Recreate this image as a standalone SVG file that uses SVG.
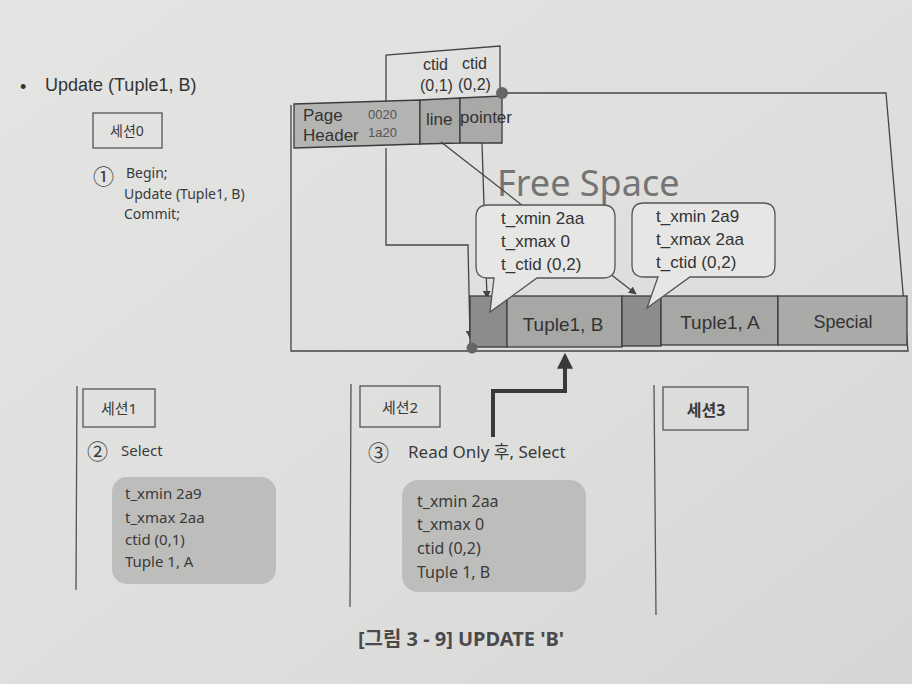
<svg xmlns="http://www.w3.org/2000/svg" width="912" height="684" viewBox="0 0 912 684">
<defs>
<linearGradient id="bg" x1="0" y1="0" x2="1" y2="1">
<stop offset="0" stop-color="#e4e4e3"/>
<stop offset="0.6" stop-color="#dededd"/>
<stop offset="1" stop-color="#d6d6d5"/>
</linearGradient>
<marker id="ah" viewBox="0 0 10 10" refX="9" refY="5" markerWidth="6" markerHeight="6" orient="auto-start-reverse">
<path d="M0,0 L10,5 L0,10 z" fill="#444"/>
</marker>
<marker id="ahb" viewBox="0 0 10 10" refX="8" refY="5" markerWidth="4" markerHeight="4" orient="auto">
<path d="M0,0 L10,5 L0,10 z" fill="#3a3a3a"/>
</marker>
</defs>
<style>
.t{font-family:"Liberation Sans","Noto Sans","Noto Sans CJK KR",sans-serif;fill:#333}
.k{font-family:"Noto Sans","Noto Sans CJK KR",sans-serif;fill:#3a3a3a}
.ln{stroke:#444;stroke-width:1.3;fill:none}
.cell{stroke:#3c3c3c;stroke-width:1.3}
.sess{fill:none;stroke:#555;stroke-width:1.3}
.bub{fill:#e6e6e5;stroke:#555;stroke-width:1.3}
.gbox{fill:#bdbdbc}
.vl{stroke:#555;stroke-width:1.3}
</style>
<rect x="0" y="0" width="912" height="684" fill="url(#bg)"/>

<g id="title">
<text class="t" x="20" y="93" font-size="18">•</text>
<text class="t" x="45" y="91" font-size="18">Update (Tuple1, B)</text>
</g>

<g id="session0">
<rect class="sess" x="93" y="113" width="69" height="35"/>
<text class="k" x="127" y="136" font-size="14" text-anchor="middle">세션0</text>
<text class="k" x="93" y="184" font-size="21">①</text>
<text class="k" x="126" y="178" font-size="14">Begin;</text>
<text class="k" x="124" y="199" font-size="14">Update (Tuple1, B)</text>
<text class="k" x="124" y="219" font-size="14">Commit;</text>
</g>

<g id="page">
<path class="ln" d="M291,105 L291,351 L908,351 L886,93 L500,93"/>
<polyline class="ln" points="386,104 386,55 500,46 500,93"/>
<text class="t" x="423" y="70" font-size="16">ctid</text>
<text class="t" x="462" y="69" font-size="16">ctid</text>
<text class="t" x="420" y="91" font-size="16">(0,1)</text>
<text class="t" x="458" y="90" font-size="16">(0,2)</text>
<polygon class="cell" fill="#b4b4b2" points="294,104 420,100 420,144 294,148"/>
<polygon class="cell" fill="#a9a9a8" points="420,100 460,98 460,143 420,144"/>
<polygon class="cell" fill="#a9a9a8" points="460,98 502,96 502,143 460,143"/>
<text class="t" x="303" y="121" font-size="17">Page</text>
<text class="t" x="303" y="141" font-size="17">Header</text>
<text class="t" x="368" y="119" font-size="13" style="fill:#555">0020</text>
<text class="t" x="368" y="137" font-size="13" style="fill:#555">1a20</text>
<text class="t" x="426" y="125" font-size="17">line</text>
<text class="t" x="460" y="123" font-size="17">pointer</text>
<text class="k" x="497" y="196" font-size="36" style="fill:#747474">Free Space</text>
</g>

<g id="connectors">
<polyline class="ln" points="386,148 386,245 468,245 470,338" marker-end="url(#ah)"/>
<line class="ln" x1="441" y1="142" x2="636" y2="294" marker-end="url(#ah)"/>
<line class="ln" x1="482" y1="143" x2="487" y2="298" marker-end="url(#ah)"/>
<path d="M493,437 L493,391 L565,391 L565,356" fill="none" stroke="#3a3a3a" stroke-width="4" marker-end="url(#ahb)"/>
</g>

<g id="tuples">
<rect class="cell" x="470" y="296" width="37" height="51" fill="#8c8c8b"/>
<rect class="cell" x="507" y="296" width="115" height="51" fill="#a7a7a6"/>
<rect class="cell" x="622" y="296" width="39" height="50" fill="#8c8c8b"/>
<rect class="cell" x="661" y="296" width="117" height="49" fill="#a7a7a6"/>
<rect class="cell" x="778" y="296" width="129" height="49" fill="#aaaaa9"/>
<text class="t" x="563" y="331" font-size="19" text-anchor="middle">Tuple1, B</text>
<text class="t" x="720" y="329" font-size="19" text-anchor="middle">Tuple1, A</text>
<text class="t" x="843" y="328" font-size="18" text-anchor="middle">Special</text>
<circle cx="502" cy="93" r="6" fill="#666"/>
<circle cx="472" cy="348" r="5.5" fill="#666"/>
</g>

<g id="bubble1">
<path class="bub" d="M488,205 L603,205 Q615,205 615,217 L615,266 Q615,278 603,278 L537,278 L490,312 L494,278 L488,278 Q476,278 476,266 L476,217 Q476,205 488,205 Z"/>
<text class="t" x="501" y="224" font-size="17">t_xmin 2aa</text>
<text class="t" x="501" y="247" font-size="17">t_xmax 0</text>
<text class="t" x="501" y="270" font-size="17">t_ctid (0,2)</text>
</g>

<g id="bubble2">
<path class="bub" d="M644,203 L763,203 Q775,203 775,215 L775,265 Q775,277 763,277 L690,277 L647,308 L658,277 L644,277 Q632,277 632,265 L632,215 Q632,203 644,203 Z"/>
<text class="t" x="656" y="222" font-size="17">t_xmin 2a9</text>
<text class="t" x="656" y="245" font-size="17">t_xmax 2aa</text>
<text class="t" x="656" y="268" font-size="17">t_ctid (0,2)</text>
</g>

<g id="dividers">
<line class="vl" x1="77" y1="386" x2="76" y2="590"/>
<line class="vl" x1="351" y1="384" x2="350" y2="607"/>
<line class="vl" x1="654" y1="385" x2="656" y2="615"/>
</g>

<g id="session1">
<rect class="sess" x="83" y="389" width="72" height="38"/>
<text class="k" x="119" y="414" font-size="15" text-anchor="middle">세션1</text>
<text class="k" x="87" y="459" font-size="21">②</text>
<text class="k" x="121" y="456" font-size="15">Select</text>
<rect class="gbox" x="112" y="477" width="164" height="107" rx="15"/>
<text class="k" x="125" y="499" font-size="15">t_xmin 2a9</text>
<text class="k" x="125" y="523" font-size="15">t_xmax 2aa</text>
<text class="k" x="125" y="545" font-size="15">ctid (0,1)</text>
<text class="k" x="125" y="567" font-size="15">Tuple 1, A</text>
</g>

<g id="session2">
<rect class="sess" x="360" y="386" width="80" height="41"/>
<text class="k" x="400" y="413" font-size="15" text-anchor="middle">세션2</text>
<text class="k" x="368" y="460" font-size="21">③</text>
<text class="k" x="408" y="458" font-size="17">Read Only 후, Select</text>
<rect class="gbox" x="402" y="480" width="184" height="112" rx="16"/>
<text class="k" x="417" y="507" font-size="16">t_xmin 2aa</text>
<text class="k" x="417" y="530" font-size="16">t_xmax 0</text>
<text class="k" x="417" y="554" font-size="16">ctid (0,2)</text>
<text class="k" x="417" y="578" font-size="16">Tuple 1, B</text>
</g>

<g id="session3">
<rect class="sess" x="663" y="387" width="85" height="43"/>
<text class="k" x="706" y="416" font-size="16" font-weight="bold" text-anchor="middle">세션3</text>
</g>

<g id="caption">
<text class="k" x="461" y="646" font-size="20" font-weight="bold" text-anchor="middle" style="fill:#4a4a4a">[그림 3 - 9] UPDATE 'B'</text>
</g>
</svg>
